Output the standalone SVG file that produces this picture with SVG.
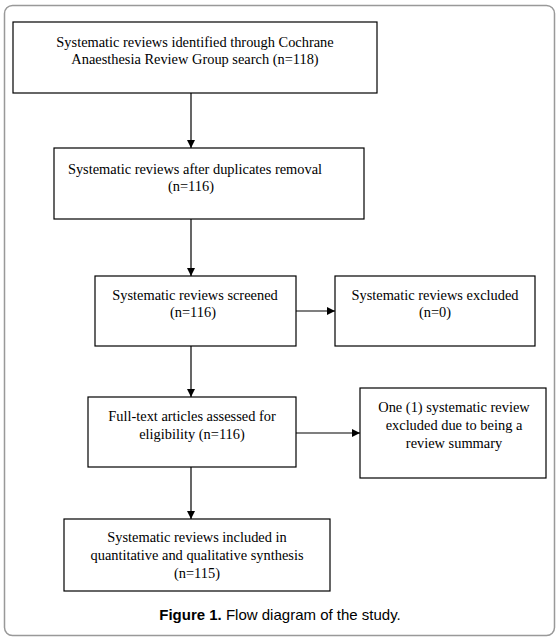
<svg xmlns="http://www.w3.org/2000/svg" width="559" height="641" viewBox="0 0 559 641">
<style>
.box{fill:#fff;stroke:#000;stroke-width:1.2}
.t{font-family:"Liberation Serif","Times New Roman",serif;font-size:14.4px;fill:#000;text-anchor:middle}
.c{stroke:#000;stroke-width:1.2;fill:none}
</style>
<defs>
<marker id="ah" viewBox="0 0 10 10" refX="10" refY="5" markerWidth="8" markerHeight="8" markerUnits="userSpaceOnUse" orient="auto">
<path d="M0,0 L10,5 L0,10 z" fill="#000"/>
</marker>
</defs>
<rect x="4.5" y="5.5" width="550" height="630" rx="8" fill="#fff" stroke="#999" stroke-width="1.5"/>
<g id="connectors">
<line class="c" x1="191" y1="93" x2="191" y2="148" marker-end="url(#ah)"/>
<line class="c" x1="191" y1="219" x2="191" y2="276" marker-end="url(#ah)"/>
<line class="c" x1="191" y1="346" x2="191" y2="397" marker-end="url(#ah)"/>
<line class="c" x1="191" y1="467" x2="191" y2="519" marker-end="url(#ah)"/>
<line class="c" x1="296" y1="311" x2="335" y2="311" marker-end="url(#ah)"/>
<line class="c" x1="296" y1="433" x2="360" y2="433" marker-end="url(#ah)"/>
</g>
<g id="n1">
<rect class="box" x="13" y="22" width="364" height="71"/>
<text class="t" x="195" y="47">Systematic reviews identified through Cochrane</text>
<text class="t" x="195" y="64">Anaesthesia Review Group search (n=118)</text>
</g>
<g id="n2">
<rect class="box" x="54" y="148" width="310" height="71"/>
<text class="t" x="195" y="174">Systematic reviews after duplicates removal</text>
<text class="t" x="191" y="191">(n=116)</text>
</g>
<g id="n3">
<rect class="box" x="95" y="276" width="201" height="70"/>
<text class="t" x="195" y="300">Systematic reviews screened</text>
<text class="t" x="193" y="317">(n=116)</text>
</g>
<g id="n4">
<rect class="box" x="335" y="276" width="200" height="70"/>
<text class="t" x="435" y="300">Systematic reviews excluded</text>
<text class="t" x="435" y="317">(n=0)</text>
</g>
<g id="n5">
<rect class="box" x="88" y="397" width="208" height="70"/>
<text class="t" x="192" y="421">Full-text articles assessed for</text>
<text class="t" x="192" y="439">eligibility (n=116)</text>
</g>
<g id="n6">
<rect class="box" x="360" y="388" width="186" height="90"/>
<text class="t" x="454" y="412">One (1) systematic review</text>
<text class="t" x="454" y="430">excluded due to being a</text>
<text class="t" x="454" y="448">review summary</text>
</g>
<g id="n7">
<rect class="box" x="64" y="519" width="266" height="72"/>
<text class="t" x="197" y="542">Systematic reviews included in</text>
<text class="t" x="197" y="560">quantitative and qualitative synthesis</text>
<text class="t" x="197" y="578">(n=115)</text>
</g>
<text x="280" y="620" font-family="Liberation Sans,Arial,sans-serif" font-size="15" text-anchor="middle" fill="#000"><tspan font-weight="bold">Figure 1.</tspan> Flow diagram of the study.</text>
</svg>
